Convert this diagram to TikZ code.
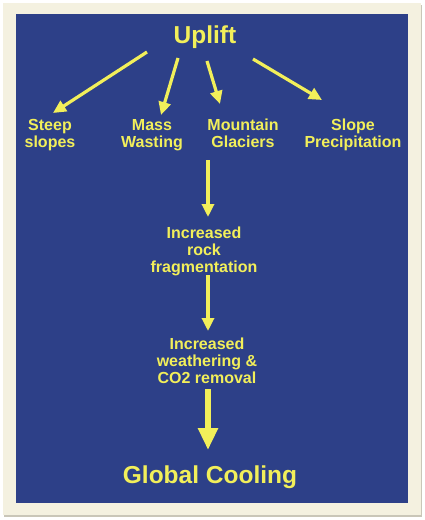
\documentclass[tikz,border=0pt]{standalone}
\usepackage{fontspec}
\setmainfont{Liberation Sans}
\usetikzlibrary{arrows.meta}
\definecolor{panelblue}{HTML}{2D4088}
\definecolor{cream}{HTML}{F4F1E0}
\definecolor{shadowgray}{HTML}{C9C6B8}
\definecolor{ylw}{HTML}{F2EF5A}
\begin{document}
\begin{tikzpicture}[x=1pt,y=-1pt,
  big/.style={text=ylw,font=\bfseries\fontsize{24.5}{26}\selectfont,inner sep=0pt},
  lab/.style={text=ylw,font=\bfseries\fontsize{16}{17}\selectfont,align=center,inner sep=0pt},
  thin/.style={draw=ylw,line width=3.2pt,-{Triangle[length=13pt,width=12pt]}},
  thick/.style={draw=ylw,line width=6.5pt,-{Triangle[length=22pt,width=19pt]}}]
\useasboundingbox (0,0) rectangle (424,520);
\fill[white] (0,0) rectangle (424,520);
\fill[shadowgray] (4,5) rectangle (422,517);
\fill[cream] (3,3) rectangle (421,515);
\fill[panelblue] (16,14) rectangle (408,503);
\node[big] (up) at (205,37) {Uplift};
\node[lab] (steep) at (50,136) {\strut Steep\\\strut slopes};
\node[lab] (mass) at (152,136) {\strut Mass\\\strut Wasting};
\node[lab] (mount) at (243,136) {\strut Mountain\\\strut Glaciers};
\node[lab] (slope) at (353,136) {\strut Slope\\\strut Precipitation};
\node[lab] (frag) at (204,252) {\strut Increased\\\strut rock\\\strut fragmentation};
\node[lab] (weath) at (207,363) {\strut Increased\\\strut weathering \&\\\strut CO2 removal};
\node[big] (cool) at (210,477) {Global Cooling};
\coordinate (a1s) at (147,52); \coordinate (a1e) at (53,113);
\coordinate (a2s) at (178,58); \coordinate (a2e) at (161,115);
\coordinate (a3s) at (207,61); \coordinate (a3e) at (220,104);
\coordinate (a4s) at (253,59); \coordinate (a4e) at (322,100);
\coordinate (v1s) at (208,160); \coordinate (v1e) at (208,217);
\coordinate (v2s) at (208,275); \coordinate (v2e) at (208,331);
\coordinate (v3s) at (208,389); \coordinate (v3e) at (208,450);
\draw[thin] (a1s) -- (a1e);
\draw[thin] (a2s) -- (a2e);
\draw[thin] (a3s) -- (a3e);
\draw[thin] (a4s) -- (a4e);
\draw[thin] (v1s) -- (v1e);
\draw[thin] (v2s) -- (v2e);
\draw[thick] (v3s) -- (v3e);
\end{tikzpicture}
\end{document}
